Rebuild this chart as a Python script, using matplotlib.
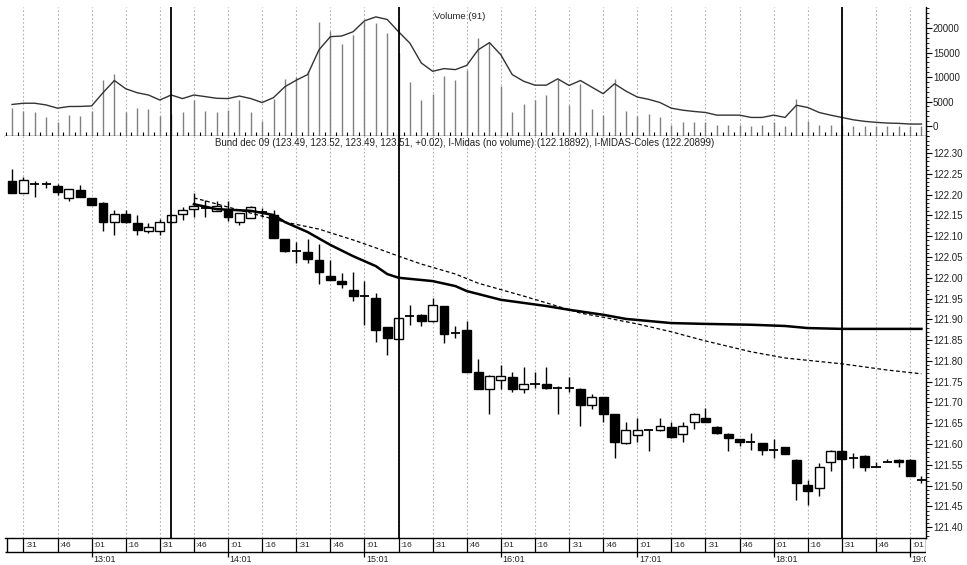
import numpy as np
import matplotlib.pyplot as plt
from matplotlib.ticker import MultipleLocator, FormatStrFormatter

plt.rcParams['font.family'] = ['Liberation Sans', 'DejaVu Sans']

# 5 minute bars, bar 0 = 12:26
opens = [122.232, 122.204, 122.225, 122.225, 122.221, 122.191, 122.211, 122.191, 122.181, 122.133,
         122.153, 122.131, 122.113, 122.113, 122.133, 122.153, 122.165, 122.167, 122.161, 122.163,
         122.135, 122.144, 122.159, 122.151, 122.093, 122.064, 122.061, 122.043, 122.005, 121.992,
         121.971, 121.957, 121.952, 121.881, 121.853, 121.909, 121.911, 121.895, 121.932, 121.867,
         121.875, 121.774, 121.732, 121.753, 121.761, 121.732, 121.745, 121.744, 121.736, 121.736,
         121.733, 121.694, 121.712, 121.672, 121.602, 121.622, 121.633, 121.634, 121.642, 121.625,
         121.654, 121.662, 121.642, 121.625, 121.612, 121.606, 121.602, 121.586, 121.592, 121.562,
         121.502, 121.495, 121.556, 121.584, 121.566, 121.572, 121.544, 121.558, 121.562, 121.562,
         121.514]
highs = [122.262, 122.242, 122.233, 122.233, 122.225, 122.214, 122.223, 122.192, 122.182, 122.163,
         122.163, 122.151, 122.131, 122.141, 122.153, 122.171, 122.203, 122.187, 122.185, 122.185,
         122.156, 122.172, 122.167, 122.163, 122.094, 122.087, 122.093, 122.081, 122.043, 122.011,
         122.013, 121.992, 121.963, 121.882, 121.904, 121.935, 121.912, 121.952, 121.933, 121.883,
         121.895, 121.804, 121.765, 121.790, 121.774, 121.785, 121.774, 121.785, 121.740, 121.761,
         121.734, 121.721, 121.713, 121.673, 121.652, 121.662, 121.635, 121.662, 121.652, 121.652,
         121.674, 121.686, 121.643, 121.626, 121.613, 121.626, 121.603, 121.612, 121.593, 121.563,
         121.514, 121.554, 121.585, 121.585, 121.578, 121.574, 121.558, 121.564, 121.563, 121.563,
         121.522]
lows = [122.205, 122.203, 122.195, 122.215, 122.199, 122.185, 122.195, 122.174, 122.113, 122.103,
        122.132, 122.103, 122.107, 122.103, 122.131, 122.139, 122.146, 122.146, 122.160, 122.137,
        122.127, 122.143, 122.147, 122.095, 122.063, 122.035, 122.035, 121.984, 121.994, 121.975,
        121.944, 121.887, 121.846, 121.814, 121.852, 121.887, 121.885, 121.894, 121.843, 121.855,
        121.773, 121.732, 121.673, 121.733, 121.724, 121.722, 121.735, 121.733, 121.673, 121.724,
        121.644, 121.684, 121.654, 121.566, 121.601, 121.606, 121.584, 121.632, 121.615, 121.604,
        121.636, 121.653, 121.625, 121.584, 121.596, 121.586, 121.574, 121.566, 121.575, 121.466,
        121.454, 121.474, 121.536, 121.563, 121.542, 121.534, 121.544, 121.558, 121.544, 121.523,
        121.507]
closes = [122.205, 122.235, 122.225, 122.225, 122.206, 122.213, 122.195, 122.175, 122.133, 122.153,
          122.133, 122.115, 122.123, 122.133, 122.151, 122.163, 122.173, 122.167, 122.173, 122.145,
          122.155, 122.171, 122.159, 122.095, 122.064, 122.064, 122.045, 122.015, 121.995, 121.984,
          121.955, 121.957, 121.875, 121.855, 121.903, 121.909, 121.895, 121.935, 121.864, 121.867,
          121.774, 121.733, 121.764, 121.764, 121.733, 121.745, 121.745, 121.734, 121.736, 121.736,
          121.694, 121.713, 121.673, 121.604, 121.633, 121.633, 121.633, 121.644, 121.616, 121.644,
          121.673, 121.654, 121.626, 121.614, 121.605, 121.606, 121.586, 121.586, 121.576, 121.506,
          121.486, 121.544, 121.584, 121.564, 121.566, 121.544, 121.544, 121.558, 121.556, 121.524,
          121.514]

volume = [3770, 3100, 2760, 1750, 740, 2220, 1950, 3100, 9350, 10700,
          2760, 3640, 3430, 1950, 2500, 2760, 5320, 3100, 2760, 3300,
          5250, 2900, 1080, 5590, 9500, 10040, 11180, 21270, 19450, 16770,
          18580, 21270, 21070, 19050, 15000, 8950, 5320, 6460, 10300, 9350,
          11510, 17900, 17030, 8140, 2890, 4440, 5250, 6260, 9630, 4240,
          8480, 3570, 2290, 9700, 3100, 1950, 2420, 1750, 300, 750,
          750, 870, 150, 200, 150, 100, 200, 870, 100, 5590,
          1080, 150, 120, 300, 50, 50, 30, 50, 30, 30,
          50]
volume_avg = [4400, 4650, 4650, 4300, 3640, 3980, 4000, 4100, 6800, 9290,
              7610, 6800, 6330, 5310, 6330, 5600, 6330, 6000, 5660, 5600,
              6120, 5600, 4790, 5800, 8020, 9350, 10500, 15550, 18240, 18380,
              19250, 21470, 22280, 21760, 19250, 16910, 12870, 11170, 11720, 11510,
              12380, 15550, 17030, 14540, 10500, 9150, 8340, 8340, 9630, 8280,
              9290, 7940, 6600, 8620, 7130, 5920, 5450, 4790, 3640, 3230,
              2970, 2760, 2220, 2220, 2220, 1750, 1750, 2220, 1750, 4240,
              3780, 2760, 2220, 1750, 1270, 950, 750, 600, 540, 400,
              400]

midas_bars = [16, 18, 21, 23, 24, 26, 28, 30, 32, 33, 34, 37, 39, 40, 43, 47, 49, 52, 54, 58,
              61, 65, 68, 70, 73, 80]
midas = [122.177, 122.165, 122.161, 122.151, 122.134, 122.110, 122.079, 122.052, 122.028, 122.009,
         122.000, 121.992, 121.980, 121.968, 121.947, 121.932, 121.923, 121.911, 121.901, 121.891,
         121.889, 121.887, 121.884, 121.879, 121.877, 121.877]
coles_bars = [16, 17, 19, 24, 27, 30, 32, 34, 36, 39, 41, 45, 50, 52, 55, 58, 61, 65, 68, 73, 77, 80]
coles = [122.192, 122.185, 122.170, 122.134, 122.117, 122.091, 122.072, 122.052, 122.033, 122.009,
         121.987, 121.956, 121.915, 121.905, 121.889, 121.870, 121.848, 121.822, 121.807, 121.793,
         121.778, 121.769]

marker_bars = [14, 34, 73]

grid_bars = list(range(1, 80, 3))
grid_labels = [':31', ':46', ':01', ':16'] * 6 + [':31', ':46', ':01']
hour_bars = [7, 19, 31, 43, 55, 67, 79]
hour_labels = ['13:01', '14:01', '15:01', '16:01', '17:01', '18:01', '19:01']

W, H = 967, 565
fig = plt.figure(figsize=(W / 100, H / 100), dpi=100)


def box(l, t, r, b):
    return [l / W, 1 - b / H, (r - l) / W, (b - t) / H]


ax_vol = fig.add_axes(box(5, 7, 926, 136))
ax_px = fig.add_axes(box(5, 136, 926, 538))
ax_strip = fig.add_axes(box(5, 538, 926, 565))
xlim = (-0.62, 80.4)
x = np.arange(len(closes))

# volume panel
vol_bottom = -2040
ax_vol.vlines(x, vol_bottom, volume, color='#808080', lw=1)
ax_vol.plot(x, volume_avg, color='#333333', lw=1)
ax_vol.set_ylim(vol_bottom, 24300)
ax_vol.yaxis.set_major_locator(MultipleLocator(5000))
ax_vol.yaxis.set_minor_locator(MultipleLocator(1000))
ax_vol.yaxis.set_major_formatter(FormatStrFormatter('%d'))
ax_vol.set_xticks(np.arange(-0.5, 81, 1))
ax_vol.tick_params(axis='x', direction='in', length=3, width=0.8, labelbottom=False)
ax_vol.text(0.494, 0.925, 'Volume (91)', transform=ax_vol.transAxes, ha='center', va='center',
            fontsize=6.8, color='#222222')

# price panel
for i in x:
    o, h, l, c = opens[i], highs[i], lows[i], closes[i]
    ax_px.vlines(i, l, h, color='k', lw=1, zorder=2)
    if abs(c - o) < 0.002:
        ax_px.hlines(o, i - 0.4, i + 0.4, color='k', lw=1.3, zorder=3)
    else:
        ax_px.bar(i, abs(c - o), bottom=min(o, c), width=0.78,
                  facecolor='k' if c < o else 'white', edgecolor='k', lw=1, zorder=3)
ax_px.plot(midas_bars, midas, color='k', lw=1.8, zorder=4)
ax_px.plot(coles_bars, coles, color='k', lw=0.9, linestyle=(0, (3, 2)), zorder=4)
ax_px.set_ylim(121.374, 122.341)
ax_px.yaxis.set_major_locator(MultipleLocator(0.05))
ax_px.yaxis.set_minor_locator(MultipleLocator(0.01))
ax_px.yaxis.set_major_formatter(FormatStrFormatter('%.2f'))
ax_px.set_xticks([])
ax_px.text(0.499, 0.983,
           'Bund dec 09 (123.49, 123.52, 123.49, 123.51, +0.02), I-Midas (no volume) (122.18892), '
           'I-MIDAS-Coles (122.20899)',
           transform=ax_px.transAxes, ha='center', va='center', fontsize=7, color='#222222')

for ax in (ax_vol, ax_px):
    ax.set_xlim(*xlim)
    for b in grid_bars:
        ax.axvline(b, color='#b0b0b0', lw=0.8, linestyle=(0, (1.5, 2)), zorder=0)
    for b in marker_bars:
        ax.axvline(b, color='k', lw=1.3, zorder=5)
    ax.yaxis.tick_right()
    ax.tick_params(axis='y', which='major', direction='out', length=4, width=0.8, pad=1,
                   labelsize=7, labelcolor='#222222')
    ax.tick_params(axis='y', which='minor', direction='out', length=2, width=0.6)
    ax.spines['top'].set_visible(False)
    ax.spines['left'].set_visible(False)
    ax.spines['right'].set_linewidth(1)
    ax.spines['bottom'].set_linewidth(1)

# time strip
ax_strip.set_xlim(*xlim)
ax_strip.set_ylim(27, 0)
ax_strip.axis('off')
ax_strip.hlines(14, xlim[0], xlim[1], color='k', lw=1)
ax_strip.vlines([xlim[0] + 0.15, xlim[1] - 0.02], 0, 14, color='k', lw=1)
for b, lab in zip(grid_bars, grid_labels):
    ax_strip.vlines(b, 0, 19 if b in hour_bars else 14, color='k', lw=0.9)
    ax_strip.text(b + 0.15, 7.5, lab, ha='left', va='center', fontsize=6, color='#222222', clip_on=True)
for b, lab in zip(hour_bars, hour_labels):
    ax_strip.text(b + 0.15, 21.5, lab, ha='left', va='center', fontsize=6.5, color='#222222', clip_on=True)

plt.savefig('out.png', dpi=100)
